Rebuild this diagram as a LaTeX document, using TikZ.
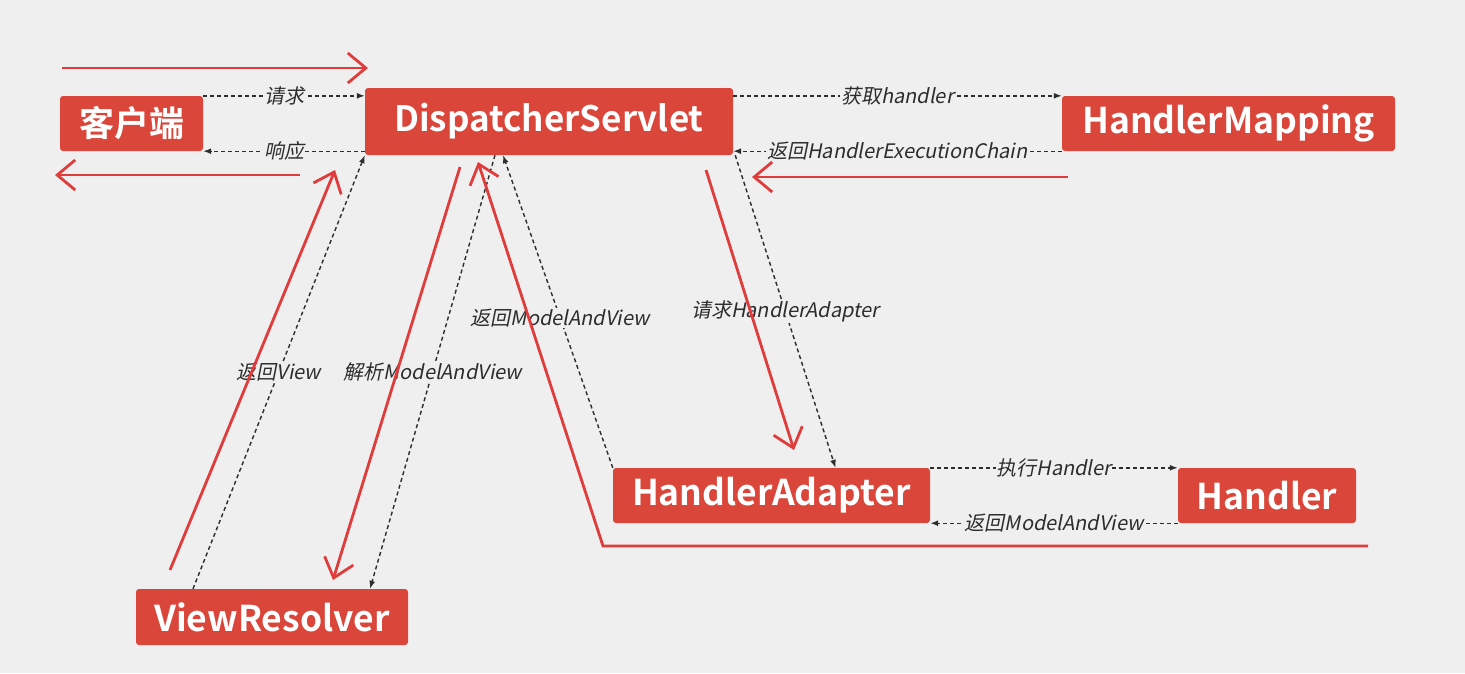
\documentclass[tikz,border=0pt]{standalone}
\usepackage{fontspec}
\usetikzlibrary{arrows.meta}
\newfontfamily\boxfont{Noto Sans CJK SC Bold}
\newfontfamily\labelfont[FakeSlant=0.2]{Noto Sans CJK SC}
\definecolor{bg}{RGB}{239,239,239}
\definecolor{boxred}{RGB}{218,70,58}
\definecolor{linered}{RGB}{224,60,60}
\definecolor{dashgray}{RGB}{45,45,45}
\tikzset{
  box/.style={fill=boxred, rounded corners=3pt, text=white, inner sep=0pt,
    font=\boxfont\fontsize{#1}{#1}\selectfont},
  dashline/.style={draw=dashgray, line width=1.4pt, dash pattern=on 4pt off 3pt,
    -{Latex[length=8pt,width=6pt]}},
  lbl/.style={fill=bg, inner sep=1pt, text=dashgray,
    font=\labelfont\fontsize{20}{20}\selectfont},
  redarrow/.style={draw=linered, line width=2.8pt,
    -{Straight Barb[length=18pt,width=30pt,line width=2.8pt]}}
}
\begin{document}
\begin{tikzpicture}[x=1pt,y=-1pt]
    \fill[bg] (0,0) rectangle (1465,673);
    % boxes
    \node[box=35, minimum width=143, minimum height=55] (client) at (131.5,123.5) {客户端};
    \node[box=35, minimum width=368, minimum height=67] (ds) at (549,121.5) {DispatcherServlet};
    \node[box=35.5, minimum width=333, minimum height=55] (hm) at (1228.5,123.5) {HandlerMapping};
    \node[box=35.5, minimum width=317, minimum height=55] (ha) at (771.5,495.5) {HandlerAdapter};
    \node[box=35.5, minimum width=178, minimum height=55] (handler) at (1267,495.5) {Handler};
    \node[box=35.5, minimum width=272, minimum height=56] (vr) at (272,617) {ViewResolver};
    % dashed connectors
    \draw[dashline] (client.north east) -- (client.north east -| ds.west) node[lbl, midway] {请求};
    \draw[dashline] (ds.west |- client.south east) -- (client.south east) node[lbl, midway] {响应};
    \draw[dashline] (ds.east |- hm.north west) -- (hm.north west) node[lbl, midway] {获取handler};
    \draw[dashline] (hm.south west) -- (hm.south west -| ds.east) node[lbl, midway] {返回HandlerExecutionChain};
    \draw[dashline] (ha.north east) -- (ha.north east -| handler.west) node[lbl, midway] {执行Handler};
    \draw[dashline] (handler.south west) -- (handler.south west -| ha.east) node[lbl, midway] {返回ModelAndView};
    \draw[dashline] ([xshift=2]ds.south east) -- ([xshift=64]ha.north) node[lbl, midway] {请求HandlerAdapter};
    \draw[dashline] (ha.north west) -- ([xshift=-46]ds.south) node[lbl, pos=0.48] {返回ModelAndView};
    \draw[dashline] ([xshift=-54]ds.south) -- ([xshift=98]vr.north) node[lbl, midway] {解析ModelAndView};
    \draw[dashline] ([xshift=-79]vr.north) -- (ds.south west) node[lbl, midway] {返回View};
    % red flow arrows
    \coordinate (reqA) at (62,68);
    \coordinate (reqB) at (368,68);
    \coordinate (resA) at (300,175);
    \coordinate (resB) at (55,175);
    \coordinate (chainA) at (1068,177);
    \coordinate (chainB) at (752,177);
    \coordinate (adaptA) at (706,170);
    \coordinate (adaptB) at (794,450);
    \coordinate (backA) at (1368,546);
    \coordinate (backC) at (603,546);
    \coordinate (backB) at (478,162);
    \coordinate (resolveA) at (460,167);
    \coordinate (resolveB) at (333,580);
    \coordinate (viewA) at (170,570);
    \coordinate (viewB) at (335,170);
    \draw[redarrow] (reqA) -- (reqB);
    \draw[redarrow] (resA) -- (resB);
    \draw[redarrow] (chainA) -- (chainB);
    \draw[redarrow] (adaptA) -- (adaptB);
    \draw[redarrow] (backA) -- (backC) -- (backB);
    \draw[redarrow] (resolveA) -- (resolveB);
    \draw[redarrow] (viewA) -- (viewB);
  \end{tikzpicture}
\end{document}
